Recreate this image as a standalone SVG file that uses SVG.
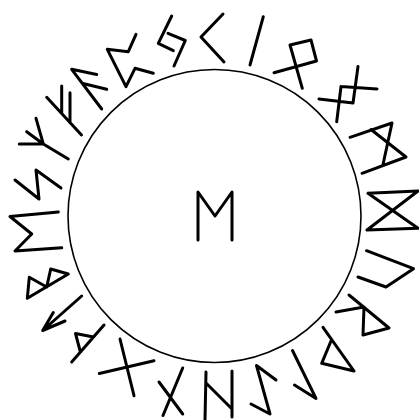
<svg xmlns="http://www.w3.org/2000/svg" width="419" height="420" viewBox="0 0 419 420">
<style>
.r{fill:none;stroke:#000;stroke-width:3;stroke-linecap:round;stroke-linejoin:round}
.c{fill:none;stroke:#000;stroke-width:1.6}
</style>
<rect width="419" height="420" fill="#fff"/>
<circle id="ring" class="c" cx="214.5" cy="216" r="146.5"/>
<g id="center" class="r"><polyline points="198,240 198,192 215,216 232,192 232,240"/></g>
<g id="hagalaz" class="r"><path d="M206,372 L205,420 M232,371 L232,417 M206,383 L231,408"/></g>
<g id="gebo" class="r"><path d="M159,382 L182.7,414 M182.7,368 L163,415.5"/></g>
<g id="naudiz" class="r"><path d="M120,339 L134,395.7 M99.3,373.5 L154,360.7"/></g>
<g id="wunjo" class="r"><path d="M71.7,362 L104,325 M80,350.5 L75.5,333.5 L93.5,337"/></g>
<g id="tiwaz" class="r"><path d="M81.7,296 L42.7,330.5 M65,321 L42.7,330.5 L53.3,312.5"/></g>
<g id="berkano" class="r"><path d="M27.3,298.3 L68.3,274 M27.3,298.3 L29.3,277.3 L46.7,287 L50.7,269 L68.3,274"/></g>
<g id="ehwaz" class="r"><path d="M10,216.5 L58.3,212 M10,216.5 L31.7,234 L15,251 L61.7,247.8"/></g>
<g id="sowilo" class="r"><polyline points="15,180 39,199 36,170 61,188"/></g>
<g id="algiz" class="r"><path d="M68.3,159 L43.3,144 L26.7,131.7 M43.3,144 L19.3,144 M43.3,144 L36,118.3"/></g>
<g id="fehu" class="r"><path d="M46.7,97.3 L81.5,135 M61.7,86 L61.7,113.5 M70,92.7 L70,122.7"/></g>
<g id="ansuz" class="r"><path d="M71.7,69.3 L101.7,109 M71.7,69.3 L96.7,74.5 M83,83.5 L106.7,89.3"/></g>
<g id="perthro" class="r"><polyline points="136,34.3 128.3,51.7 107.3,49.3 126,86.7 135,68.3 153.3,73.3"/></g>
<g id="jera" class="r"><path d="M171.7,16 L158.3,43.3 L173.3,50.7 M168,33.3 L185.3,40.5 L174,66"/></g>
<g id="kaunan" class="r"><polyline points="223,14 201,37 224,62"/></g>
<g id="isa" class="r"><path d="M263.3,16.7 L250,65"/></g>
<g id="othala" class="r"><path d="M274,72.7 L316.5,61 L311,40 L290,45 L302.3,88.3"/></g>
<g id="ingwaz" class="r"><path d="M319,99 L353,103 L358,66.5 M341,86.5 L377,89 M341,86.5 L336.7,121.7"/></g>
<g id="mannaz" class="r"><path d="M350,137.3 L392,123 L383,164.5 M371,129.5 L406,157 L362,173.3"/></g>
<g id="dagaz" class="r"><path d="M368,193.3 L418,191 L367,230 L418,228.3 L368,193.3"/></g>
<g id="uruz" class="r"><polyline points="366.5,250.7 413.5,268.7 386,287 358,277"/></g>
<g id="raido" class="r"><path d="M349,295 L389,328 L363,335 L364,307 M336,312 L364,307"/></g>
<g id="thurisaz" class="r"><path d="M323,327.3 L354,371 M331,341 L321.7,363.3 L354,371"/></g>
<g id="laguz" class="r"><polyline points="292.5,350.5 316,398.5 294.5,385"/></g>
<g id="eihwaz" class="r"><polyline points="276,380 256.5,365.5 270,414 251,404"/></g>
</svg>
